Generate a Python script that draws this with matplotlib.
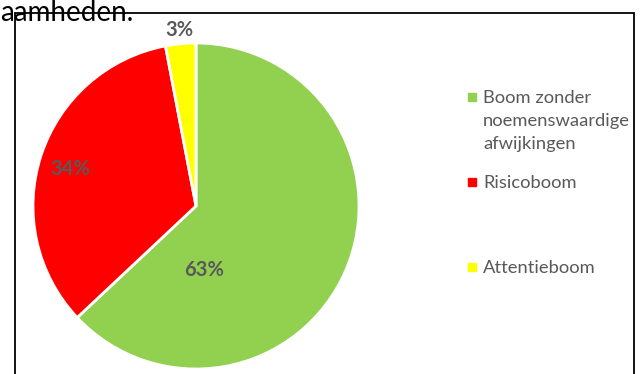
import matplotlib
matplotlib.use("Agg")
import matplotlib.pyplot as plt
from matplotlib.patches import Rectangle

plt.rcParams["font.family"] = ["Lato", "DejaVu Sans"]

# data
categories = ["Boom zonder\nnoemenswaardige\nafwijkingen", "Risicoboom", "Attentieboom"]
shares = [63, 34, 3]
colors = ["#92d050", "#ff0000", "#ffff00"]
# label positions (data units inside the pie axes), Excel "best fit"
label_pos = [(0.05, -0.39), (-0.77, 0.23), (-0.10, 1.08)]

W, H = 641, 374
fig = plt.figure(figsize=(W / 100, H / 100), dpi=100)


def fx(px):
    return px / W


def fy(py):
    return 1 - py / H


# chart border (bottom edge cut off in the source)
fig.patches.append(Rectangle((fx(15), fy(400)), fx(634) - fx(15), fy(13) - fy(400),
                             transform=fig.transFigure, fill=False,
                             edgecolor="black", linewidth=1.3))
fig.text(fx(0), fy(21), "aamheden.", fontsize=20, color="black",
         ha="left", va="baseline")

cx, cy, r = 196, 206, 163
ax = fig.add_axes([fx(cx - r), fy(cy + r), 2 * r / W, 2 * r / H])
wedges, _ = ax.pie(shares, colors=colors, startangle=90, counterclock=False,
                   wedgeprops=dict(edgecolor="white", linewidth=2))
ax.set_xlim(-1, 1)
ax.set_ylim(-1, 1)
for val, (lx, ly) in zip(shares, label_pos):
    ax.text(lx, ly, f"{val}%", ha="center", va="center", fontsize=14.5,
            fontweight="bold", color="#595959", clip_on=False)

# legend, one text per line so the first line sits on the marker
legend_y = [103, 188, 273]
line_step = 23
for lab, col, by in zip(categories, colors, legend_y):
    fig.patches.append(Rectangle((fx(468), fy(by - 2)), 8 / W, 8 / H,
                                 transform=fig.transFigure, color=col))
    for i, line in enumerate(lab.split("\n")):
        fig.text(fx(483), fy(by + i * line_step), line, fontsize=13.2,
                 color="#595959", ha="left", va="baseline")

fig.savefig("out.png", dpi=100)
